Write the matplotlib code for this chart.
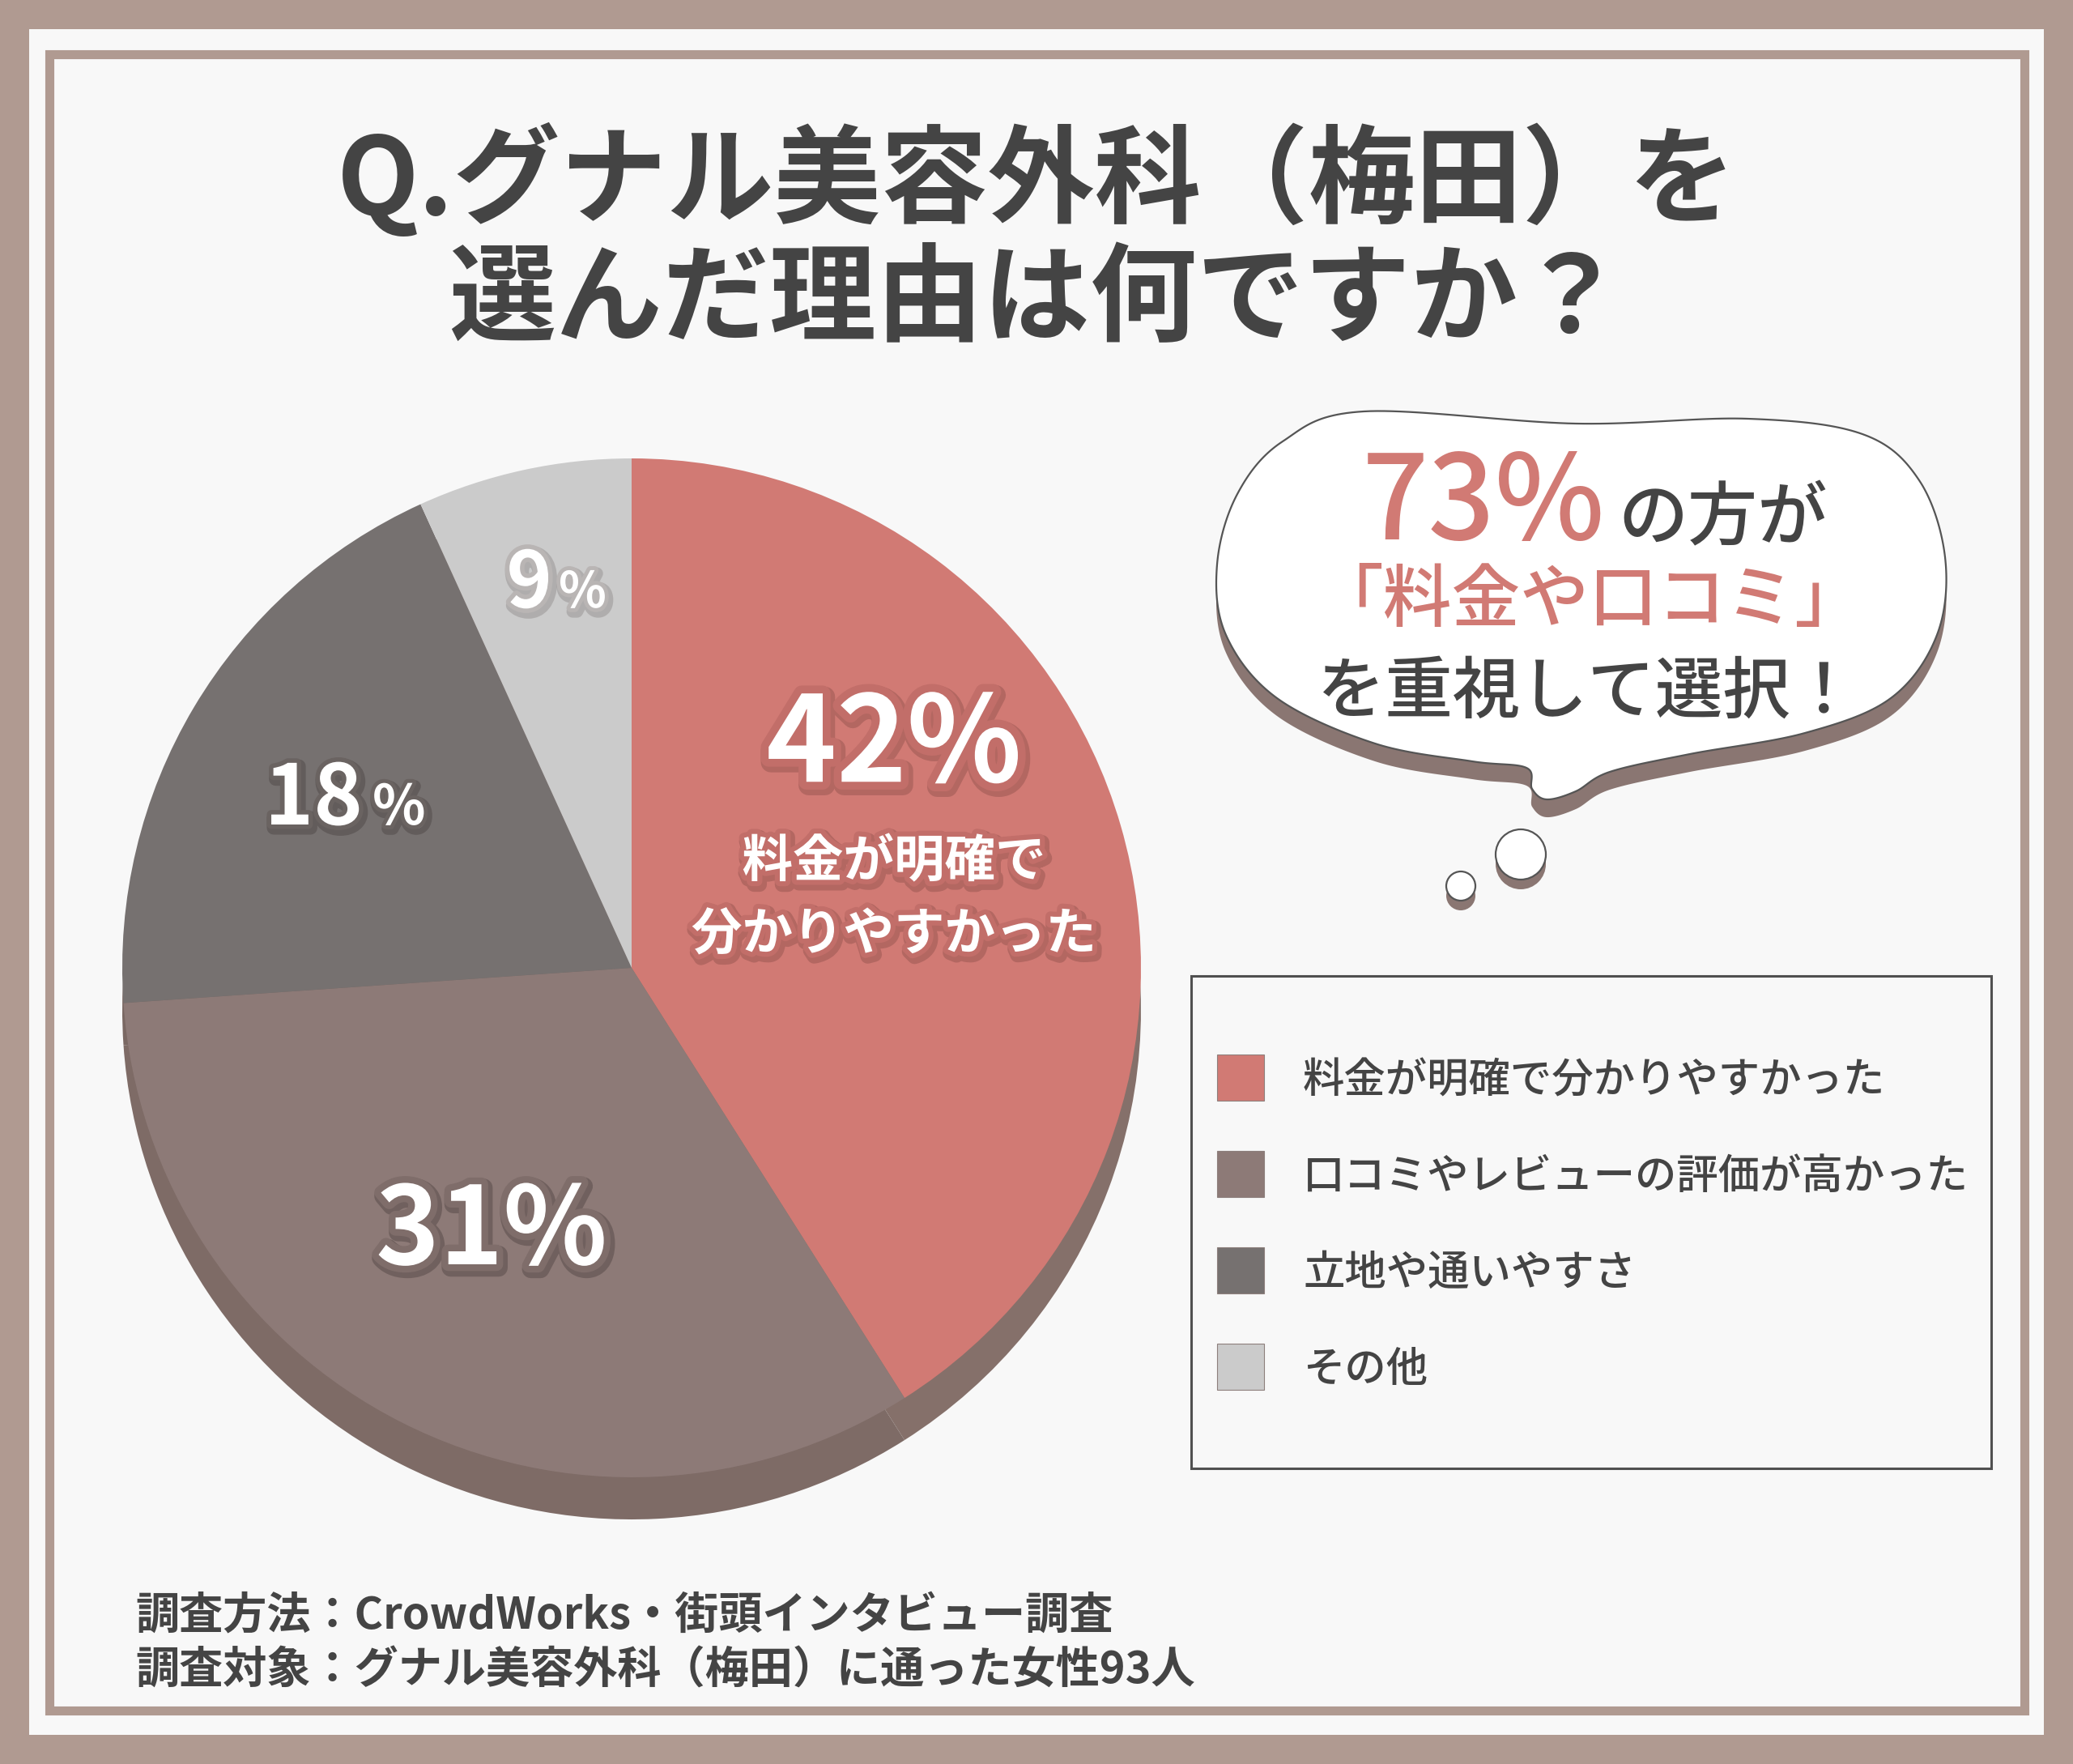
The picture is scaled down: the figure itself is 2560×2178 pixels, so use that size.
import numpy as np
import matplotlib.pyplot as plt
import matplotlib.patheffects as pe
from matplotlib.patches import Rectangle, Circle

plt.rcParams['font.family'] = ['Noto Sans CJK JP', 'DejaVu Sans']

W, H = 2560, 2178

# --- data -------------------------------------------------------------
title_lines = ['Q.グナル美容外科（梅田）を', '選んだ理由は何ですか？']
categories = ['料金が明確で分かりやすかった', '口コミやレビューの評価が高かった',
              '立地や通いやすさ', 'その他']
pct_labels = ['42', '31', '18', '9']
slice_sizes = [41.0, 32.9, 19.3, 6.8]
top_label = ['料金が明確で', '分かりやすかった']
bubble_pct = '73%'
bubble_lines = ['の方が', '「料金や口コミ」', 'を重視して選択！']
footer_lines = ['調査方法：CrowdWorks・街頭インタビュー調査',
                '調査対象：グナル美容外科（梅田）に通った女性93人']

colors = ['#d17a74', '#8d7a77', '#767170', '#cbcbcb']
side_colors = ['#85706a', '#7e6b66', '#7a6863', '#7e6b66']
outline_cols = ['#c26e69', '#7f6d6a', '#6a6361', '#b9b5b4']
TXT = '#444444'
FRAME = '#b09a91'


def fy(y):
    # positions below are measured top-down in pixels
    return H - y


def smooth_closed(pts, n=24):
    p = np.asarray(pts, float)
    m = len(p)
    t = np.linspace(0, 1, n, endpoint=False)[:, None]
    out = []
    for i in range(m):
        p0, p1, p2, p3 = p[i - 1], p[i], p[(i + 1) % m], p[(i + 2) % m]
        out.append(0.5 * (2 * p1 + (-p0 + p2) * t + (2 * p0 - 5 * p1 + 4 * p2 - p3) * t ** 2
                          + (-p0 + 3 * p1 - 3 * p2 + p3) * t ** 3))
    return np.vstack(out)


fig = plt.figure(figsize=(W / 100, H / 100), dpi=100, facecolor=FRAME)
ax = fig.add_axes([0, 0, 1, 1])
ax.set_axis_off()

# panel + inner frame
ax.add_patch(Rectangle((36, fy(2142)), 2488, 2106, facecolor='#f8f8f8', edgecolor='none', zorder=0))
ax.add_patch(Rectangle((60.5, fy(2112)), 2439, 2045.5, facecolor='none', edgecolor=FRAME,
                       linewidth=8, zorder=1))

# title
for i, line in enumerate(title_lines):
    ax.text(1280, fy(222 + i * 150), line, ha='center', va='center', fontsize=95,
            fontweight='bold', color=TXT, zorder=5)

# pie (side first, then top face)
cx, cy, R = 780, fy(1195), 629
ax.pie(slice_sizes, colors=side_colors, startangle=90, counterclock=False,
       center=(cx, cy - 52), radius=R, wedgeprops=dict(linewidth=0))
ax.pie(slice_sizes, colors=colors, startangle=90, counterclock=False,
       center=(cx, cy), radius=R, wedgeprops=dict(linewidth=0))


def fx(out, shadow, lw):
    return [pe.Stroke(linewidth=lw + 4, foreground=shadow, alpha=0.45, offset=(2, -3)),
            pe.Stroke(linewidth=lw, foreground=out), pe.Normal()]


ax.text(1104, fy(922), pct_labels[0] + '%', ha='center', va='center', fontsize=106,
        fontweight='bold', color='white', zorder=6, path_effects=fx(outline_cols[0], '#8f504c', 14))
for i, line in enumerate(top_label):
    ax.text(1104, fy(1064 + i * 90), line, ha='center', va='center', fontsize=45,
            fontweight='bold', color='white', zorder=6, path_effects=fx(outline_cols[0], '#8f504c', 9))

ax.text(607, fy(1522), pct_labels[1] + '%', ha='center', va='center', fontsize=96,
        fontweight='bold', color='white', zorder=6, path_effects=fx(outline_cols[1], '#4e4240', 12))

ax.text(448, fy(1018), pct_labels[2], ha='right', va='baseline', fontsize=74,
        fontweight='bold', color='white', zorder=6, path_effects=fx(outline_cols[2], '#4a4342', 8))
ax.text(460, fy(1018), '%', ha='left', va='baseline', fontsize=49,
        fontweight='bold', color='white', zorder=6, path_effects=fx(outline_cols[2], '#4a4342', 7))

ax.text(682, fy(750), pct_labels[3], ha='right', va='baseline', fontsize=69,
        fontweight='bold', color='white', zorder=6, path_effects=fx(outline_cols[3], '#8f8a89', 8))
ax.text(690, fy(750), '%', ha='left', va='baseline', fontsize=44,
        fontweight='bold', color='white', zorder=6, path_effects=fx(outline_cols[3], '#8f8a89', 7))

# thought bubble
bubble = [(1684, 508), (1946, 523), (2158, 517), (2300, 536), (2370, 593), (2402, 688),
          (2392, 784), (2335, 862), (2229, 905), (2087, 931), (1988, 953), (1946, 977),
          (1910, 987), (1892, 974), (1885, 948), (1818, 940), (1698, 918), (1577, 862),
          (1514, 784), (1503, 697), (1528, 610), (1584, 545)]
sh = smooth_closed(bubble)
ax.fill(sh[:, 0], fy(sh[:, 1] + 22), color='#8a7672', lw=0, zorder=2)
ax.fill(sh[:, 0], fy(sh[:, 1]), facecolor='white', edgecolor='#555555', lw=1.6, zorder=3)
for (bx, by, br) in [(1878, 1055, 31), (1804, 1094, 18)]:
    ax.add_patch(Circle((bx, fy(by + 12)), br, facecolor='#8a7672', edgecolor='none', zorder=2))
    ax.add_patch(Circle((bx, fy(by)), br, facecolor='white', edgecolor='#555555', lw=1.6, zorder=3))

ax.text(1982, fy(666), bubble_pct, ha='right', va='baseline', fontsize=104,
        fontweight='medium', color=colors[0], zorder=5)
ax.text(1998, fy(666), bubble_lines[0], ha='left', va='baseline', fontsize=62,
        fontweight='medium', color=TXT, zorder=5)
ax.text(1962, fy(742), bubble_lines[1], ha='center', va='center', fontsize=61,
        fontweight='medium', color=colors[0], zorder=5)
ax.text(1960, fy(856), bubble_lines[2], ha='center', va='center', fontsize=60,
        fontweight='medium', color=TXT, zorder=5)

# legend box
ax.add_patch(Rectangle((1471, fy(1813)), 988, 608, facecolor='none', edgecolor='#505050',
                       linewidth=2.2, zorder=4))
for i, (lab, col) in enumerate(zip(categories, colors)):
    yc = 1330 + i * 119
    ax.add_patch(Rectangle((1503, fy(yc + 28.5)), 58, 57, facecolor=col, edgecolor='#8d7f7c',
                           linewidth=0.8, zorder=4))
    ax.text(1609, fy(yc + 4), lab, ha='left', va='center', fontsize=37,
            fontweight='medium', color=TXT, zorder=5)

# footer
for i, line in enumerate(footer_lines):
    ax.text(167, fy(1995 + i * 68), line, ha='left', va='center', fontsize=39,
            fontweight='bold', color=TXT, zorder=5)

ax.set_xlim(0, W)
ax.set_ylim(0, H)
ax.set_aspect('equal')
fig.savefig('out.png', dpi=100, facecolor=FRAME)
